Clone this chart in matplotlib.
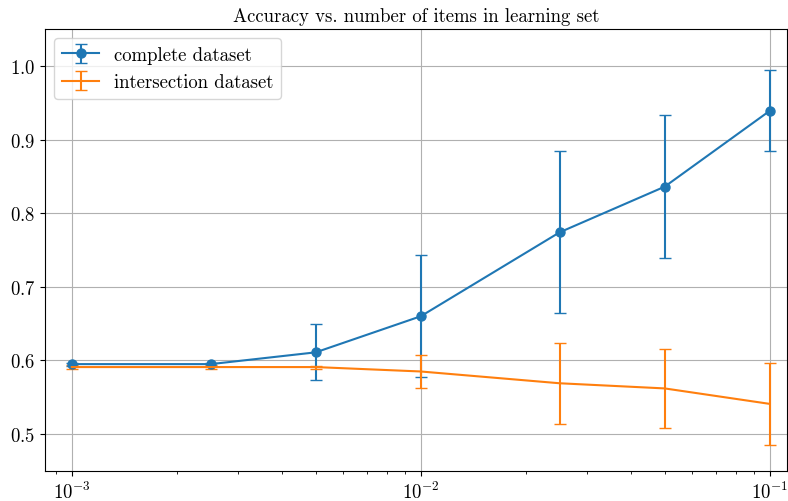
import matplotlib

matplotlib.rcParams['font.family'] = 'cmr10'
matplotlib.rcParams['mathtext.fontset'] = 'cm'
matplotlib.rcParams['axes.formatter.use_mathtext'] = True
matplotlib.rcParams['axes.unicode_minus'] = False
matplotlib.rcParams['font.size'] = 13.5

import matplotlib.pyplot as plt

# fraction of items used in the learning set
fractions = [0.001, 0.0025, 0.005, 0.01, 0.025, 0.05, 0.1]

complete_mean = [0.595, 0.595, 0.611, 0.660, 0.774, 0.836, 0.939]
complete_err = [0.002, 0.002, 0.038, 0.083, 0.110, 0.097, 0.055]

intersection_mean = [0.591, 0.591, 0.591, 0.585, 0.569, 0.562, 0.541]
intersection_err = [0.003, 0.003, 0.002, 0.022, 0.055, 0.054, 0.056]

fig = plt.figure(figsize=(7.88, 5.02), dpi=100)
ax = fig.add_axes([0.057, 0.06, 0.9415, 0.88])

ax.errorbar(fractions, complete_mean, yerr=complete_err, marker='o',
            markersize=6.5, capsize=4, label='complete dataset')
ax.errorbar(fractions, intersection_mean, yerr=intersection_err,
            capsize=4, label='intersection dataset')

ax.set_xscale('log')
ax.set_xlim(10 ** -3.077, 10 ** -0.951)
ax.set_ylim(0.45, 1.05)
ax.grid(True)
ax.set_title('Accuracy vs. number of items in learning set', fontsize=13.5)
ax.legend(loc='upper left', fontsize=13.5)

fig.savefig('out.png', dpi=100)
